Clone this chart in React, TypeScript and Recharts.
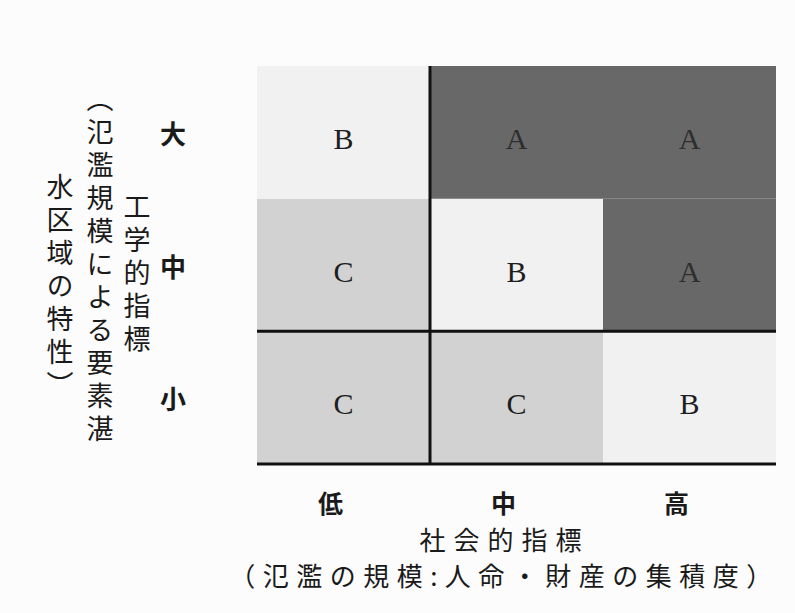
import { ComposedChart, XAxis, YAxis, ReferenceArea, ReferenceLine } from 'recharts';

// columns: 社会的指標 (low → high), rows: 工学的指標 (small → large)
const socialLevels = ['低', '中', '高'];
const engineeringLevels = ['小', '中', '大'];

const rowSmall = ['C', 'C', 'B'];
const rowMid = ['C', 'B', 'A'];
const rowLarge = ['B', 'A', 'A'];

const yTitleColumns = ['工学的指標', '（氾濫規模による要素湛', '水区域の特性）'];
const xTitleLines = ['社会的指標', '（氾濫の規模:人命・財産の集積度）'];

const GRADE_FILL: Record<string, string> = {
  A: '#686868',
  B: '#f1f1f1',
  C: '#d2d2d2',
};
const GRADE_TEXT: Record<string, string> = {
  A: '#2e2e2e',
  B: '#1e1e1e',
  C: '#1e1e1e',
};

const cells = [rowSmall, rowMid, rowLarge].flatMap((row, r) =>
  row.map((grade, c) => ({ col: c, row: r, grade })),
);

const JP = '"Noto Sans CJK JP", sans-serif';
const ink = '#1a1a1a';

const XTick = ({ x, y, payload }: any) => (
  <text
    x={x - 13}
    y={y + 38}
    textAnchor="middle"
    dominantBaseline="central"
    fontSize={25}
    fontWeight={700}
    fontFamily={JP}
    fill={ink}
  >
    {socialLevels[Math.floor(payload.value)]}
  </text>
);

const YTick = ({ y, payload }: any) => (
  <text
    x={173}
    y={y}
    textAnchor="middle"
    dominantBaseline="central"
    fontSize={26}
    fontWeight={700}
    fontFamily={JP}
    fill={ink}
  >
    {engineeringLevels[Math.floor(payload.value)]}
  </text>
);

const YTitle = () => {
  const cols = [
    { x: 137, y: 193 },
    { x: 100, y: 85 },
    { x: 60, y: 173 },
  ];
  return (
    <g>
      {yTitleColumns.map((t, i) => (
        <text
          key={i}
          x={cols[i].x}
          y={cols[i].y}
          fontSize={27}
          fontFamily={JP}
          fill={ink}
          letterSpacing={6}
          style={{ writingMode: 'vertical-rl' } as any}
        >
          {t}
        </text>
      ))}
    </g>
  );
};

const XTitle = ({ viewBox }: any) => {
  const cx = viewBox.x + viewBox.width / 2 - 12;
  return (
    <g>
      <text x={cx} y={538} textAnchor="middle" dominantBaseline="central" fontSize={26} letterSpacing={8} fontFamily={JP} fill={ink}>
        {xTitleLines[0]}
      </text>
      <text x={cx} y={574} textAnchor="middle" dominantBaseline="central" fontSize={26} letterSpacing={7.5} fontFamily={JP} fill={ink}>
        {xTitleLines[1]}
      </text>
    </g>
  );
};

export default function App() {
  return (
    <div style={{ position: 'absolute', left: 0, top: 0, width: 795, height: 613, background: '#fcfcfc' }}>
      <ComposedChart width={795} height={613} data={cells} margin={{ top: 66, right: 19, bottom: 0, left: 0 }}>
        <XAxis
          type="number"
          dataKey="col"
          domain={[0, 3]}
          ticks={[0.5, 1.5, 2.5]}
          height={149}
          tickSize={0}
          tickMargin={0}
          tickLine={false}
          axisLine={{ stroke: '#111', strokeWidth: 3 }}
          tick={<XTick />}
          label={{ content: <XTitle /> }}
        />
        <YAxis
          type="number"
          dataKey="row"
          domain={[0, 3]}
          ticks={[0.5, 1.5, 2.5]}
          width={257}
          tickSize={0}
          tickMargin={0}
          tickLine={false}
          axisLine={false}
          tick={<YTick />}
          label={{ content: <YTitle /> }}
        />
        {cells.map((c) => (
          <ReferenceArea
            key={`${c.row}-${c.col}`}
            x1={c.col}
            x2={c.col + 1}
            y1={c.row}
            y2={c.row + 1}
            fill={GRADE_FILL[c.grade]}
            fillOpacity={1}
            stroke="none"
            label={{
              value: c.grade,
              position: 'center',
              dy: 6,
              fontSize: 30,
              fontFamily: '"Liberation Serif", serif',
              fill: GRADE_TEXT[c.grade],
            }}
          />
        ))}
        <ReferenceLine y={1} stroke="#111" strokeWidth={3} />
        <ReferenceLine x={1} stroke="#111" strokeWidth={3} />
      </ComposedChart>
    </div>
  );
}
